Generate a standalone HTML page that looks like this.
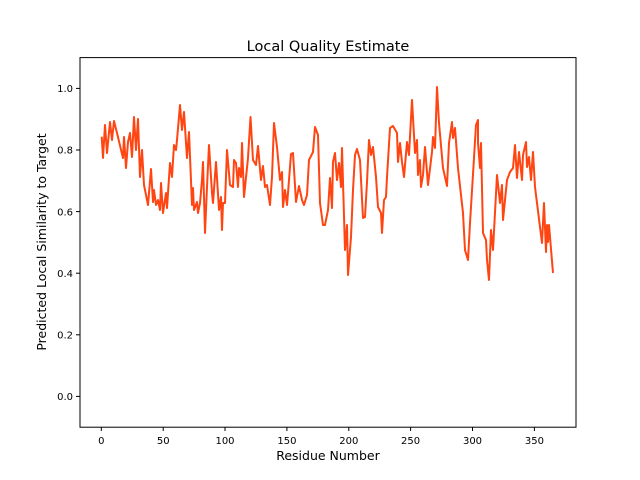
<!DOCTYPE html>
<html><head><style>body{margin:0;background:#fff}svg{display:block}text{font-family:"DejaVu Sans","Liberation Sans",sans-serif;fill:#000}</style></head><body>
<svg width="640" height="480" viewBox="0 0 640 480" xmlns="http://www.w3.org/2000/svg">
<rect x="0" y="0" width="640" height="480" fill="#fff"/>
<polyline fill="none" stroke="#ff4512" stroke-width="2" stroke-linejoin="round" points="101.7,136.7 103,158 105,125 107,153 110,122 112,140 114,121 117,133 123,158 124,137 126,168 128,142 130,133 132,157 134,117 136,150 138,119 140,177 142,150 144,185 148,205 151,169 153,202 154,190 156,205 158,200 160,210 161,183 163,213 166,193 167,208 170,163 172,177 174,145 176,150 177,140 180,105 182,130 184,112 187,158 189,132 192,205 193,188 194,210 197,202 198,213 200,203 202,180 203,162 205,233 207,187 209,145 212,193 213,203 216,162 219,210 221,197 222,230 223,203 225,203 227,150 230,185 233,187 234,160 236,163 238,187 239,168 241,177 242,143 244,197 248,158 250.5,117 253,160 256,165 258,146 261,180 263,166 265,187 267,185 270,205 272,177 274,123 277,147 280,180 282,172 283,207 285,190 287,205 288,193 291,154 293,153 296,202 299,186 302,200 304,205 307,195 309,160 313,152 315,127 318,135 320,203 323,225 325,225 328,210 330,178 332,208 333,162 335,153 337,180 339,163 341,187 342,148 345,250 347,225 348,275 351,237 353,190 355,155 357,149 360,160 363,218 365,217 367,182 369,140 371,155 373,147 376,177 378,207 381,213 382,233 384,200 386,197 387,177 390,128 393,126 397,133 398,162 400,143 402,162 404,177 407,142 409,155 412,100 415,153 417,140 418,175 420,160 421,187 423,175 425,147 428,185 432,152 433,137 435,148 437,87 439,123 443,168 447,186 449,143 452,122 453,138 455,128 458,168 463,213 465,250 468,260 470,223 474,158 476,125 478,120 478,143 480,168 481,143 483,233 486,240 487,260 489,280 491,230 493,250 497,175 500,203 502,185 503,220 507,180 510,172 513,168 515,145 517,178 519,152 522,180 523,155 526,142 527,167 529,157 531,180 533,152 535,187 540,227 542,243 544,203 546,252 547,225 548,242 549,225 553,273"/>
<rect x="80" y="57.6" width="496" height="369.6" fill="none" stroke="#000" stroke-width="1"/>
<g stroke="#000" stroke-width="1">
<line x1="101.3" y1="427" x2="101.3" y2="431"/><line x1="163.2" y1="427" x2="163.2" y2="431"/><line x1="225" y1="427" x2="225" y2="431"/><line x1="286.9" y1="427" x2="286.9" y2="431"/><line x1="348.8" y1="427" x2="348.8" y2="431"/><line x1="410.6" y1="427" x2="410.6" y2="431"/><line x1="472.5" y1="427" x2="472.5" y2="431"/><line x1="534.4" y1="427" x2="534.4" y2="431"/>
<line x1="76" y1="396.4" x2="80" y2="396.4"/><line x1="76" y1="334.8" x2="80" y2="334.8"/><line x1="76" y1="273.2" x2="80" y2="273.2"/><line x1="76" y1="211.6" x2="80" y2="211.6"/><line x1="76" y1="150" x2="80" y2="150"/><line x1="76" y1="88.4" x2="80" y2="88.4"/>
</g>
<g font-size="10" text-anchor="middle">
<text x="101.3" y="444">0</text><text x="163.2" y="444">50</text><text x="225" y="444">100</text><text x="286.9" y="444">150</text><text x="348.8" y="444">200</text><text x="410.6" y="444">250</text><text x="472.5" y="444">300</text><text x="534.4" y="444">350</text>
</g>
<g font-size="10" text-anchor="end">
<text x="73" y="400">0.0</text><text x="73" y="338.5">0.2</text><text x="73" y="277">0.4</text><text x="73" y="215.3">0.6</text><text x="73" y="153.7">0.8</text><text x="73" y="92">1.0</text>
</g>
<text x="328" y="51" font-size="14.5" text-anchor="middle">Local Quality Estimate</text>
<text x="328" y="460" font-size="12.5" text-anchor="middle">Residue Number</text>
<text x="0" y="0" font-size="12.5" text-anchor="middle" transform="translate(46,242) rotate(-90)">Predicted Local Similarity to Target</text>
</svg>
</body></html>
